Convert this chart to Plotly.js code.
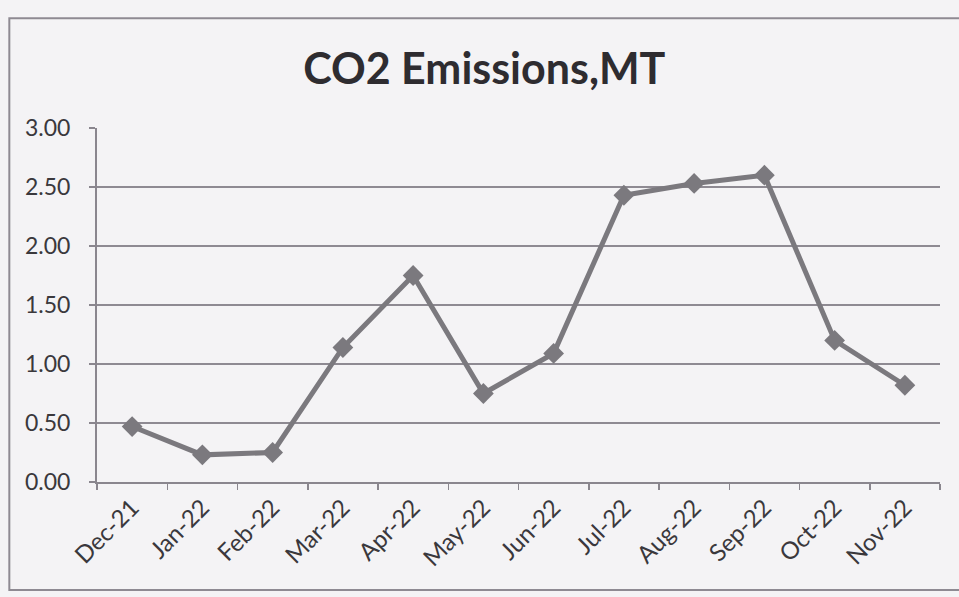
<!DOCTYPE html>
<html>
<head>
<meta charset="utf-8">
<script src="https://cdn.plot.ly/plotly-3.0.1.min.js"></script>
<style>html,body{margin:0;padding:0;background:#f4f3f5;}#chart{width:959px;height:597px;}</style>
</head>
<body>
<div id="chart"></div>
<script>
const months = ["Dec-21","Jan-22","Feb-22","Mar-22","Apr-22","May-22","Jun-22","Jul-22","Aug-22","Sep-22","Oct-22","Nov-22"];
const emissions = [0.47, 0.23, 0.25, 1.14, 1.75, 0.75, 1.09, 2.43, 2.53, 2.60, 1.20, 0.82];
const yTicks = [0, 0.5, 1, 1.5, 2, 2.5, 3];
const yTickText = ["0.00","0.50","1.00","1.50","2.00","2.50","3.00"];

const trace = {
  x: months, y: emissions, type: "scatter", mode: "lines+markers",
  line: {color: "#7b797e", width: 5},
  marker: {symbol: "diamond", size: 16, color: "#7b797e"},
  hoverinfo: "skip"
};
const layout = {
  width: 959, height: 597,
  paper_bgcolor: "#f4f3f5", plot_bgcolor: "#f4f3f5",
  margin: {l: 97, r: 19, t: 128, b: 115},
  showlegend: false,
  font: {family: "Lato, 'Open Sans', sans-serif", color: "#3a383c"},
  title: {text: "<b>CO2 Emissions,MT</b>", x: 0.505, xanchor: "center", y: 0.885, yanchor: "middle",
          font: {size: 43, family: "Lato, 'Open Sans', sans-serif", color: "#2e2c30"}},
  xaxis: {
    type: "category", range: [-0.5, 11.5], tickangle: -45,
    tickfont: {size: 24, color: "#3a383c"},
    showline: true, linecolor: "#8a868e", linewidth: 2,
    ticks: "outside", tickson: "boundaries", ticklen: 6, tickcolor: "#8a868e", tickwidth: 1.5,
    showgrid: false, zeroline: false
  },
  yaxis: {
    range: [0, 3], tickvals: yTicks, ticktext: yTickText,
    tickfont: {size: 23, color: "#3a383c"},
    showline: true, linecolor: "#8a868e", linewidth: 2,
    ticks: "outside", ticklen: 6, tickcolor: "#8a868e", tickwidth: 1.5, ticklabelstandoff: 14,
    showgrid: true, gridcolor: "#8e8a92", gridwidth: 1.5, zeroline: false
  },
  shapes: [{type: "rect", xref: "paper", yref: "paper", x0: -0.104, x1: 1.1, y0: -0.305, y1: 1.31,
            line: {color: "#8e8a92", width: 2}, fillcolor: "rgba(0,0,0,0)", layer: "below"}]
};
Plotly.newPlot("chart", [trace], layout, {displayModeBar: false, staticPlot: true});
</script>
</body>
</html>
